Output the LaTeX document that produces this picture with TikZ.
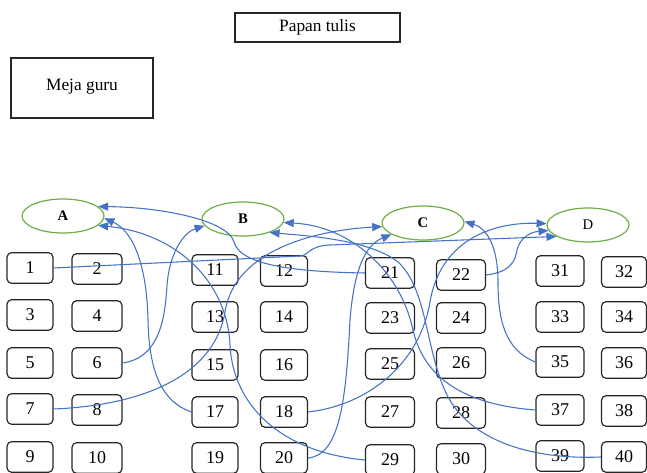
\documentclass[tikz,border=0pt]{standalone}
\usepackage{fontspec}
\setmainfont{Liberation Serif}
\usetikzlibrary{arrows.meta,shapes.geometric}
\definecolor{ink}{HTML}{262626}
\definecolor{linkBlue}{HTML}{4472C4}
\definecolor{groupGreen}{HTML}{70AD47}
\tikzset{
    desk/.style={
        draw=ink,
        line width=0.9pt,
        rounded corners=3.5pt,
        minimum height=23pt,
        inner sep=0pt,
        font=\fontsize{13.5}{15}\selectfont
    },
    furniture/.style={
        draw=ink,
        line width=0.8pt,
        inner sep=0pt,
        font=\fontsize{13}{15}\selectfont
    },
    group/.style={
        ellipse,
        draw=groupGreen,
        line width=0.9pt,
        minimum width=61.5pt,
        minimum height=25.5pt,
        inner sep=0pt,
        font=\fontsize{11}{13}\selectfont
    },
    link/.style={
        -{Triangle[length=7.5pt,width=6pt]},
        draw=linkBlue,
        line width=0.8pt
    }
}

\begin{document}
\begin{tikzpicture}[x=0.75pt,y=-0.75pt]
    \clip (0,0) rectangle (647,473);

    % Front of the class
    \node[furniture, minimum width=123.75pt, minimum height=21.75pt] (board) at (317.5,27.5) {Papan tulis};
    \node[furniture, minimum width=106.5pt, minimum height=45pt, text depth=5pt] (teacher) at (82,88) {Meja guru};

    % Group ellipses
    \node[group] (grp-A) at (63,216) {\textbf{A}};
    \node[group] (grp-B) at (243,219) {\textbf{B}};
    \node[group] (grp-C) at (423,223) {\textbf{C}};
    \node[group] (grp-D) at (588,225) {D};

    % Desks, one column at a time
    \foreach \n/\y in {1/268,3/315,5/363,7/409,9/457}
        \node[desk, minimum width=34.5pt] (desk-\n) at (30,\y) {\n};
    \foreach \n/\y in {2/269,4/316,6/363,8/410,10/458}
        \node[desk, minimum width=37.5pt] (desk-\n) at (97,\y) {\n};
    \foreach \n/\y in {11/270,13/317,15/365,17/412,19/458}
        \node[desk, minimum width=34.5pt] (desk-\n) at (215,\y) {\n};
    \foreach \n/\y in {12/271,14/317,16/365,18/412,20/458}
        \node[desk, minimum width=35.25pt] (desk-\n) at (284,\y) {\n};
    \foreach \n/\y in {21/273,23/318,25/364,27/412,29/460}
        \node[desk, minimum width=36.75pt] (desk-\n) at (390,\y) {\n};
    \foreach \n/\y in {22/275,24/318,26/363,28/413,30/459}
        \node[desk, minimum width=36.75pt] (desk-\n) at (461,\y) {\n};
    \foreach \n/\y in {31/271,33/317,35/362,37/410,39/456}
        \node[desk, minimum width=36pt] (desk-\n) at (560,\y) {\n};
    \foreach \n/\y in {32/272,34/317,36/363,38/411,40/457}
        \node[desk, minimum width=33.75pt] (desk-\n) at (624,\y) {\n};

    % Members of group A
    \draw[link] (desk-21.west) .. controls (300,272) and (240,266) .. (234,242)
        .. controls (228,220) and (160,207) .. (grp-A.15);
    \draw[link] (desk-17.west) .. controls (162,402) and (149,372) .. (148,320)
        .. controls (147,270) and (135,232) .. (grp-A.-3);
    \draw[link] (desk-29.west) .. controls (280,452) and (233,405) .. (230,345)
        .. controls (227,280) and (175,233) .. (grp-A.345);

    % Members of group B
    \draw[link] (desk-6.east) .. controls (158,358) and (165,322) .. (167,285)
        .. controls (170,250) and (185,232) .. (grp-B.190);
    \draw[link] (desk-37.west) .. controls (470,405) and (425,382) .. (413,330)
        .. controls (400,270) and (350,226) .. (grp-B.-5);
    \draw[link] (desk-40.west) .. controls (530,460) and (470,440) .. (447,395)
        .. controls (425,350) and (428,290) .. (398,262)
        .. controls (370,240) and (310,236) .. (grp-B.333);

    % Members of group C
    \draw[link] (desk-7.east) .. controls (150,405) and (215,372) .. (225,312)
        .. controls (235,248) and (320,230) .. (grp-C.185);
    \draw[link] (desk-20.east) .. controls (340,455) and (346,400) .. (350,320)
        .. controls (354,270) and (365,245) .. (grp-C.200);
    \draw[link] (desk-35.west) .. controls (505,350) and (498,320) .. (498,282)
        .. controls (498,245) and (486,228) .. (grp-C.2);

    % Members of group D
    \draw[link] (desk-1.east) -- (300,256) .. controls (310,255) and (308,246) .. (330,245)
        -- (grp-D.200);
    \draw[link] (desk-18.east) .. controls (370,405) and (420,362) .. (430,302)
        .. controls (440,242) and (490,222) .. (grp-D.178);
    \draw[link] (desk-22.east) .. controls (510,272) and (515,262) .. (517,250)
        .. controls (520,238) and (530,232) .. (grp-D.188);

\end{tikzpicture}
\end{document}
